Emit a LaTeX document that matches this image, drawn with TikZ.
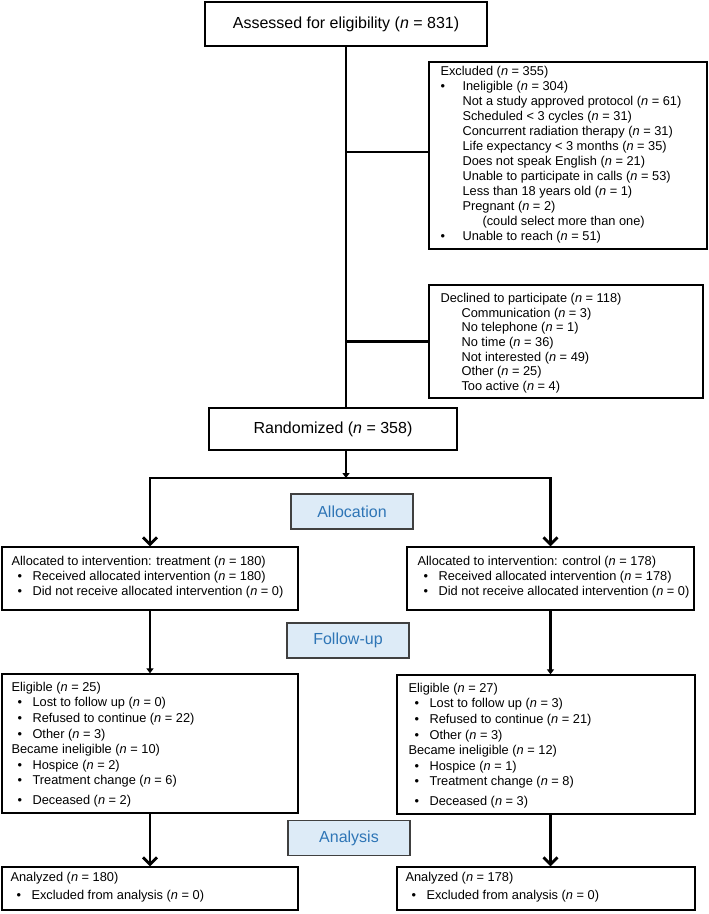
\documentclass[tikz,border=0pt]{standalone}
\usepackage{fontspec}
\setmainfont{Liberation Sans}
\usepackage{tikz}
\usetikzlibrary{positioning,calc,arrows.meta}
\definecolor{phaseblue}{HTML}{2E75B6}
\definecolor{phasefill}{HTML}{DDEBF7}
\newcommand{\nn}{\textit{n}}
\newcommand{\blt}{\hspace*{6pt}\makebox[15pt][l]{\textbullet}}

\begin{document}
\begin{tikzpicture}[x=1pt, y=-1pt,
    box/.style={draw, rectangle, line width=1.3pt, inner sep=0pt},
    phase/.style={draw=black!75, fill=phasefill, text=phaseblue, line width=1.3pt, minimum width=122pt, minimum height=35pt, font=\fontsize{16}{18}\selectfont},
    txt/.style={anchor=north west, inner sep=0pt, align=left, font=\fontsize{12.8}{15}\selectfont},
    flow/.style={line width=2.8pt},
    barb/.style={flow, -{Straight Barb[length=7pt,width=14pt]}},
    tip/.style={flow, -{Triangle[length=5pt,width=7pt]}}
]
    \useasboundingbox (0,0) rectangle (709,914);

    % Enrollment
    \node [box, minimum width=282pt, minimum height=44pt, font=\fontsize{16}{18}\selectfont] (assess) at (346,24) {Assessed for eligibility (\nn{} = 831)};

    \node [box, minimum width=278pt, minimum height=187pt] (excl) at (568,155.5) {};
    \node [txt] (excltxt) at ([xshift=12pt,yshift=-4.5pt]excl.north west) {Excluded (\nn{} = 355)\\
        \makebox[22pt][l]{\textbullet}Ineligible (\nn{} = 304)\\
        \hspace*{22pt}Not a study approved protocol (\nn{} = 61)\\
        \hspace*{22pt}Scheduled < 3 cycles (\nn{} = 31)\\
        \hspace*{22pt}Concurrent radiation therapy (\nn{} = 31)\\
        \hspace*{22pt}Life expectancy < 3 months (\nn{} = 35)\\
        \hspace*{22pt}Does not speak English (\nn{} = 21)\\
        \hspace*{22pt}Unable to participate in calls (\nn{} = 53)\\
        \hspace*{22pt}Less than 18 years old (\nn{} = 1)\\
        \hspace*{22pt}Pregnant (\nn{} = 2)\\
        \hspace*{42pt}(could select more than one)\\
        \makebox[22pt][l]{\textbullet}Unable to reach (\nn{} = 51)};

    \node [box, minimum width=274pt, minimum height=113pt] (decl) at (566,341.5) {};
    \node [txt, font=\fontsize{12.8}{14.7}\selectfont] (decltxt) at ([xshift=12pt,yshift=-8.5pt]decl.north west) {Declined to participate (\nn{} = 118)\\
        \hspace*{21pt}Communication (\nn{} = 3)\\
        \hspace*{21pt}No telephone (\nn{} = 1)\\
        \hspace*{21pt}No time (\nn{} = 36)\\
        \hspace*{21pt}Not interested (\nn{} = 49)\\
        \hspace*{21pt}Other (\nn{} = 25)\\
        \hspace*{21pt}Too active (\nn{} = 4)};

    \node [box, minimum width=248pt, minimum height=42pt, font=\fontsize{16}{18}\selectfont] (rand) at (333,429) {Randomized (\nn{} = 358)};

    % Allocation
    \node [phase] (alloclbl) at (352,511.5) {Allocation};

    \node [box, minimum width=296pt, minimum height=63pt] (lalloc) at (150,578.5) {};
    \node [txt] (lalloctxt) at ([xshift=10pt,yshift=-10pt]lalloc.north west) {Allocated to intervention: treatment (\nn{} = 180)\\
        \blt Received allocated intervention (\nn{} = 180)\\
        \blt Did not receive allocated intervention (\nn{} = 0)};

    \node [box, minimum width=287pt, minimum height=63pt] (ralloc) at (550.5,578.5) {};
    \node [txt] (ralloctxt) at ([xshift=11pt,yshift=-10pt]ralloc.north west) {Allocated to intervention: control (\nn{} = 178)\\
        \blt Received allocated intervention (\nn{} = 178)\\
        \blt Did not receive allocated intervention (\nn{} = 0)};

    % Follow-up
    \node [phase] (followlbl) at (348,640.5) {Follow-up};

    \node [box, minimum width=296pt, minimum height=139pt] (lelig) at (150,743.5) {};
    \node [txt, font=\fontsize{12.8}{15.6}\selectfont] (leligtxt) at ([xshift=10pt,yshift=-8.5pt]lelig.north west) {Eligible (\nn{} = 25)\\
        \blt Lost to follow up (\nn{} = 0)\\
        \blt Refused to continue (\nn{} = 22)\\
        \blt Other (\nn{} = 3)\\
        Became ineligible (\nn{} = 10)\\
        \blt Hospice (\nn{} = 2)\\
        \blt Treatment change (\nn{} = 6)\\[3.5pt]
        \blt Deceased (\nn{} = 2)};

    \node [box, minimum width=298pt, minimum height=139pt] (relig) at (546,744.5) {};
    \node [txt, font=\fontsize{12.8}{15.6}\selectfont] (religtxt) at ([xshift=12pt,yshift=-8.5pt]relig.north west) {Eligible (\nn{} = 27)\\
        \blt Lost to follow up (\nn{} = 3)\\
        \blt Refused to continue (\nn{} = 21)\\
        \blt Other (\nn{} = 3)\\
        Became ineligible (\nn{} = 12)\\
        \blt Hospice (\nn{} = 1)\\
        \blt Treatment change (\nn{} = 8)\\[3.5pt]
        \blt Deceased (\nn{} = 3)};

    % Analysis
    \node [phase] (analysislbl) at (349,838) {Analysis};

    \node [box, minimum width=296pt, minimum height=43pt] (lana) at (150,888.5) {};
    \node [txt, font=\fontsize{12.8}{18}\selectfont] (lanatxt) at ([xshift=9pt,yshift=-6pt]lana.north west) {Analyzed (\nn{} = 180)\\
        \blt Excluded from analysis (\nn{} = 0)};

    \node [box, minimum width=298pt, minimum height=43pt] (rana) at (546,888.5) {};
    \node [txt, font=\fontsize{12.8}{18}\selectfont] (ranatxt) at ([xshift=9pt,yshift=-6pt]rana.north west) {Analyzed (\nn{} = 178)\\
        \blt Excluded from analysis (\nn{} = 0)};

    % Connectors
    \coordinate (exclsplit) at (346,152);
    \coordinate (split) at (346,478);
    \draw [flow] (assess.south) -- (assess.south |- rand.north);
    \draw [flow] (exclsplit) -- (exclsplit -| excl.west);
    \draw [flow] (assess.south |- decl.west) -- (decl.west);
    \draw [tip] (split |- rand.south) -- (split);
    \draw [barb] (split) -| (lalloc.north);
    \draw [barb] (split) -| (ralloc.north);
    \draw [tip] (lalloc.south) -- (lelig.north);
    \draw [tip] (ralloc.south) -- (ralloc.south |- relig.north);
    \draw [barb] (lelig.south) -- (lana.north);
    \draw [barb] (ralloc.south |- relig.south) -- (ralloc.south |- rana.north);

\end{tikzpicture}
\end{document}
